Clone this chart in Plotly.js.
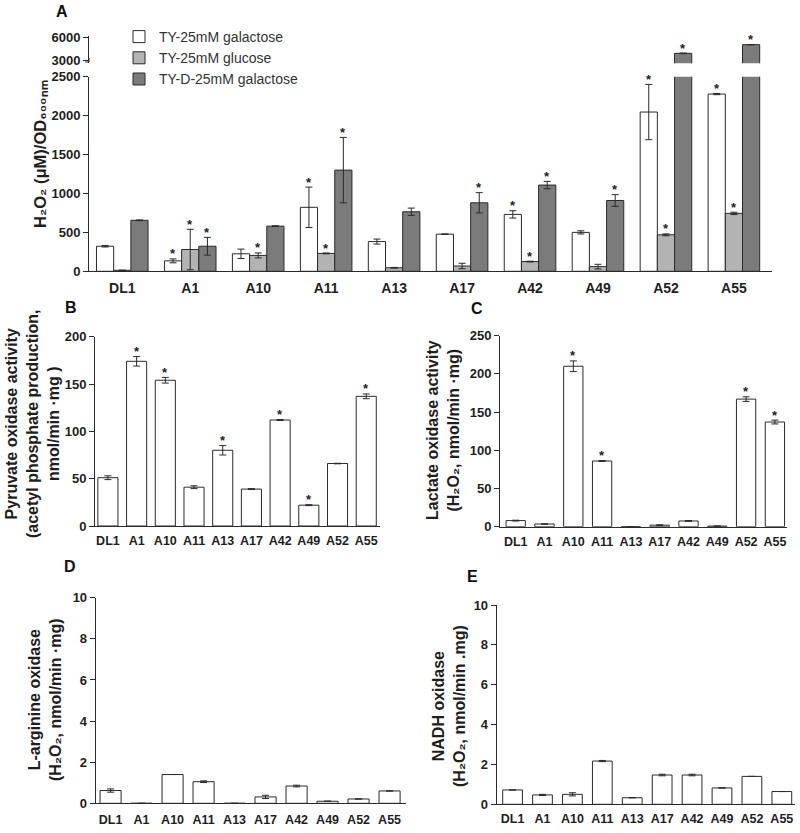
<!DOCTYPE html>
<html>
<head>
<meta charset="utf-8">
<script src="https://cdn.plot.ly/plotly-3.0.1.min.js"></script>
<style>
html,body{margin:0;padding:0;background:#fff;}
#chart{width:800px;height:833px;}
</style>
</head>
<body>
<div id="chart"></div>
<script>
// ---------- DATA ----------
const categories = ['DL1','A1','A10','A11','A13','A17','A42','A49','A52','A55'];

// Panel A: H2O2 (uM)/OD600nm
const seriesNames = ['TY-25mM galactose','TY-25mM glucose','TY-D-25mM galactose'];
const galactose      = [322, 134, 225, 822, 382, 477, 731, 500, 2046, 2277];
const galactoseErr   = [10, 25, 60, 260, 32, 3, 47, 20, 355, 8];
const glucose        = [13, 280, 204, 230, 45, 68, 125, 60, 469, 744];
const glucoseErr     = [2, 260, 32, 5, 5, 35, 5, 30, 12, 15];
const dGalactose     = [655, 322, 580, 1300, 765, 880, 1108, 910, 3870, 5000];
const dGalactoseErr  = [5, 114, 5, 420, 47, 130, 47, 75, 40, 20];
const starsGalactose  = [0,1,0,1,0,0,1,0,1,1];
const starsGlucose    = [0,1,1,1,0,0,1,0,1,1];
const starsDGalactose = [0,1,0,1,0,1,1,1,1,1];
const yTicksA      = [0, 500, 1000, 1500, 2000, 2500];
const yTicksAUpper = [3000, 6000];

// Panel B: pyruvate oxidase
const pyruvate    = [51, 174, 154, 41, 80, 39, 112, 22, 66, 137];
const pyruvateErr = [2, 5, 3, 1.5, 5, 0.5, 0.5, 0.5, 0.3, 2.5];
const starsB      = [0,1,1,0,1,0,1,1,0,1];
const yTicksB     = [0, 50, 100, 150, 200];

// Panel C: lactate oxidase
const lactate    = [8, 3.5, 210, 86, 0, 2, 7.5, 0.8, 167, 137];
const lactateErr = [0.5, 0.3, 7, 0.5, 0, 0.5, 0.5, 0.2, 3, 2.5];
const starsC     = [0,0,1,1,0,0,0,0,1,1];
const yTicksC    = [0, 50, 100, 150, 200, 250];

// Panel D: L-arginine oxidase
const arginine    = [0.62, 0, 1.4, 1.05, 0, 0.31, 0.84, 0.1, 0.21, 0.6];
const arginineErr = [0.08, 0, 0, 0.04, 0, 0.08, 0.04, 0, 0, 0];

// Panel E: NADH oxidase
const nadh    = [0.72, 0.47, 0.5, 2.17, 0.33, 1.47, 1.47, 0.82, 1.4, 0.64];
const nadhErr = [0, 0.03, 0.08, 0.03, 0, 0.04, 0.04, 0, 0, 0];
const yTicksDE = [0, 2, 4, 6, 8, 10];

// ---------- STYLE / LAYOUT ----------
const W = 800, H = 833;
const fx = p => p / W;
const fy = p => 1 - p / H;
const FONT = 'Liberation Sans, Arial, Helvetica, sans-serif';
const INK = '#2a2a2a';
const fillColors = ['#ffffff', '#b3b3b3', '#7b7b7b'];

const errStyle = arr => ({type:'data', array: arr, visible:true, color: INK, thickness:1, width:3.5});

const traces = [];
const wA = 0.253;
const offsA = [-0.38, -0.127, 0.126];
const dataA = [galactose, glucose, dGalactose];
const errA = [galactoseErr, glucoseErr, dGalactoseErr];
for (let s = 0; s < 3; s++) {
  traces.push({
    type:'bar', name: seriesNames[s], x: categories, y: dataA[s],
    xaxis:'x', yaxis:'y', width: wA, offset: offsA[s],
    marker:{color: fillColors[s], line:{color: INK, width:1}},
    error_y: errStyle(errA[s]), showlegend:true, hoverinfo:'x+y'
  });
}
// upper (broken) segment of panel A
traces.push({
  type:'bar', name: seriesNames[2], x: categories, y: dGalactose,
  xaxis:'x', yaxis:'y2', width: wA, offset: offsA[2],
  marker:{color: fillColors[2], line:{color: INK, width:1}},
  error_y: errStyle(dGalactoseErr), showlegend:false, hoverinfo:'x+y'
});

function single(y, err, xa, ya, w) {
  return {
    type:'bar', x: categories, y: y, xaxis: xa, yaxis: ya, width: w, offset: -w/2,
    marker:{color:'#ffffff', line:{color: INK, width:1}},
    error_y: errStyle(err), showlegend:false, hoverinfo:'x+y'
  };
}
traces.push(single(pyruvate, pyruvateErr, 'x3', 'y3', 0.70));
traces.push(single(lactate, lactateErr, 'x4', 'y4', 0.67));
traces.push(single(arginine, arginineErr, 'x5', 'y5', 0.68));
traces.push(single(nadh, nadhErr, 'x6', 'y6', 0.66));

const tickFont = {family: FONT, size: 13, color: '#1e1e1e', weight: 'bold'};
function yax(d0, d1, range, tickvals, anchor) {
  return {domain:[fy(d1), fy(d0)], range: range, tickmode:'array', tickvals: tickvals,
    showgrid:false, zeroline:false, showline:true, linecolor: INK, linewidth:1,
    ticks:'outside', ticklen:5, tickwidth:1, tickcolor: INK, tickfont: tickFont,
    anchor: anchor, fixedrange:true};
}
function xax(x0, x1, range, anchor, size, standoff) {
  return {domain:[fx(x0), fx(x1)], range: range, type:'category',
    showgrid:false, zeroline:false, showline:true, linecolor: INK, linewidth:1,
    ticks:'', tickfont: {family: FONT, size: size, color:'#1e1e1e', weight:'bold'},
    ticklabelstandoff: standoff, anchor: anchor, fixedrange:true};
}
const rangeA = [-0.49, 9.56];

const layout = {
  width: W, height: H, margin:{l:0, r:0, t:0, b:0},
  paper_bgcolor:'#ffffff', plot_bgcolor:'rgba(0,0,0,0)',
  font:{family: FONT, color:'#1e1e1e'},
  barmode:'overlay',
  xaxis:  xax(89, 772, rangeA, 'y', 14, 4),
  // numeric twin of panel A's x axis, used to place the significance stars
  xaxis7: {domain:[fx(89), fx(772)], range: rangeA, type:'linear', overlaying:'x', anchor:'y',
    visible:false, showgrid:false, zeroline:false, fixedrange:true},
  yaxis:  yax(76.7, 271.3, [0, 2500], yTicksA, 'x'),
  yaxis2: yax(36, 63.3, [2570, 6130], yTicksAUpper, 'x'),
  xaxis3: xax(95, 380, [-0.45, 9.48], 'y3', 12.5, 3),
  yaxis3: yax(336.7, 526, [0, 200], yTicksB, 'x3'),
  xaxis4: xax(500, 787, [-0.545, 9.42], 'y4', 12.5, 3),
  yaxis4: yax(335.7, 526.7, [0, 250], yTicksC, 'x4'),
  xaxis5: xax(95.7, 406, [-0.48, 9.53], 'y5', 12.5, 5),
  yaxis5: yax(597.7, 803.3, [0, 10], yTicksDE, 'x5'),
  xaxis6: xax(496.7, 795, [-0.53, 9.44], 'y6', 12.5, 3),
  yaxis6: yax(605, 804.3, [0, 10], yTicksDE, 'x6'),
  showlegend: true,
  legend:{x: fx(119), y: fy(21), xanchor:'left', yanchor:'top',
    font:{family: FONT, size: 14, color:'#333'}, bgcolor:'rgba(0,0,0,0)',
    traceorder:'normal', itemclick:false, itemdoubleclick:false},
  annotations: [],
  shapes: []
};

const ann = layout.annotations;
function starAnn(xref, yref, xpos, ypos) {
  ann.push({xref: xref, yref: yref, x: xpos, y: ypos, text:'*', showarrow:false,
    yanchor:'middle', xanchor:'center', yshift: 5,
    font:{family: FONT, size: 13, color:'#222', weight:'bold'}});
}
// stars panel A
const starsA = [starsGalactose, starsGlucose, starsDGalactose];
for (let s = 0; s < 3; s++) {
  for (let i = 0; i < categories.length; i++) {
    if (!starsA[s][i]) continue;
    const top = dataA[s][i] + errA[s][i];
    const xpos = i + offsA[s] + wA/2;
    starAnn('x7', top > 2500 ? 'y2' : 'y', xpos, top);
  }
}
const singles = [[pyruvate, pyruvateErr, starsB, 'x3', 'y3'], [lactate, lactateErr, starsC, 'x4', 'y4']];
singles.forEach(([v, e, st, xr, yr]) => {
  for (let i = 0; i < categories.length; i++) if (st[i]) starAnn(xr, yr, i, v[i] + e[i]);
});

// axis break mark on panel A's upper segment
layout.shapes.push({type:'path', xref:'paper', yref:'paper',
  path: `M ${fx(85)} ${fy(62)} L ${fx(89)} ${fy(62)} L ${fx(89)} ${fy(58)}`,
  line:{color: INK, width:1}});

// panel letters
[['A', 62, 12], ['B', 71, 307], ['C', 477, 308], ['D', 70, 566], ['E', 472, 576]].forEach(([t, x, y]) => {
  ann.push({xref:'paper', yref:'paper', x: fx(x), y: fy(y), text: t, showarrow:false,
    xanchor:'center', yanchor:'middle', font:{family: FONT, size: 16, color:'#111', weight:'bold'}});
});

// axis titles (rotated), subscripts as Unicode characters
function yTitle(text, x, y, size) {
  ann.push({xref:'paper', yref:'paper', x: fx(x), y: fy(y), text: text, showarrow:false,
    textangle: -90, xanchor:'center', yanchor:'middle', align:'center',
    font:{family: FONT, size: size, color:'#1e1e1e', weight:'bold'}});
}
yTitle('H₂O₂ (μM)/OD₆₀₀ₙₘ', 40, 154, 16.5);
yTitle('Pyruvate oxidase activity<br>(acetyl phosphate production,<br>nmol/min ·mg )', 32, 424, 16);
yTitle('Lactate oxidase activity<br>(H₂O₂, nmol/min ·mg)', 443, 430, 16);
yTitle('L-arginine oxidase<br>(H₂O₂, nmol/min ·mg)', 45, 700, 16);
yTitle('NADH oxidase<br>(H₂O₂, nmol/min .mg)', 449, 706, 16);

Plotly.newPlot('chart', traces, layout, {displayModeBar:false, staticPlot:true});
</script>
</body>
</html>
